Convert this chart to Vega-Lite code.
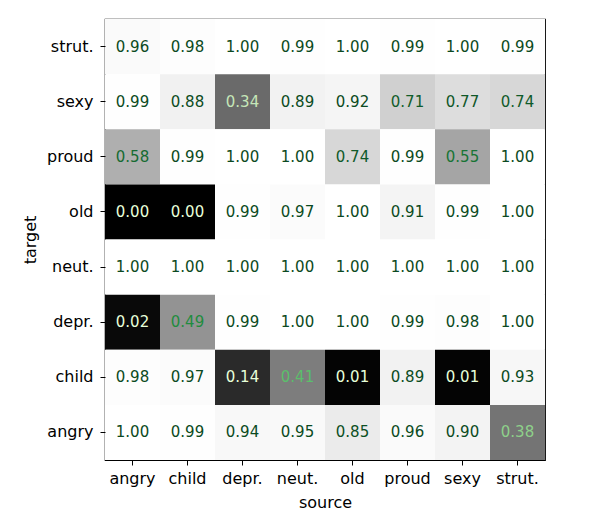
{
  "$schema": "https://vega.github.io/schema/vega-lite/v6.json",
  "autosize": {"type": "none"},
  "padding": {"left": 105, "top": 19, "right": 53, "bottom": 63},
  "width": 440,
  "height": 441,
  "background": "white",
  "config": {
    "font": "DejaVu Sans",
    "view": {"stroke": "black", "strokeWidth": 1.2},
    "axis": {
      "labelFont": "DejaVu Sans", "labelFontSize": 16, "labelColor": "black",
      "titleFont": "DejaVu Sans", "titleFontSize": 16, "titleFontWeight": "normal", "titleColor": "black",
      "tickColor": "black", "tickSize": 5, "domain": false, "grid": false
    }
  },
  "data": {"values": [
    {"target": "strut.", "source": "angry", "v": 0.96},
    {"target": "strut.", "source": "child", "v": 0.98},
    {"target": "strut.", "source": "depr.", "v": 1.00},
    {"target": "strut.", "source": "neut.", "v": 0.99},
    {"target": "strut.", "source": "old", "v": 1.00},
    {"target": "strut.", "source": "proud", "v": 0.99},
    {"target": "strut.", "source": "sexy", "v": 1.00},
    {"target": "strut.", "source": "strut.", "v": 0.99},
    {"target": "sexy", "source": "angry", "v": 0.99},
    {"target": "sexy", "source": "child", "v": 0.88},
    {"target": "sexy", "source": "depr.", "v": 0.34},
    {"target": "sexy", "source": "neut.", "v": 0.89},
    {"target": "sexy", "source": "old", "v": 0.92},
    {"target": "sexy", "source": "proud", "v": 0.71},
    {"target": "sexy", "source": "sexy", "v": 0.77},
    {"target": "sexy", "source": "strut.", "v": 0.74},
    {"target": "proud", "source": "angry", "v": 0.58},
    {"target": "proud", "source": "child", "v": 0.99},
    {"target": "proud", "source": "depr.", "v": 1.00},
    {"target": "proud", "source": "neut.", "v": 1.00},
    {"target": "proud", "source": "old", "v": 0.74},
    {"target": "proud", "source": "proud", "v": 0.99},
    {"target": "proud", "source": "sexy", "v": 0.55},
    {"target": "proud", "source": "strut.", "v": 1.00},
    {"target": "old", "source": "angry", "v": 0.00},
    {"target": "old", "source": "child", "v": 0.00},
    {"target": "old", "source": "depr.", "v": 0.99},
    {"target": "old", "source": "neut.", "v": 0.97},
    {"target": "old", "source": "old", "v": 1.00},
    {"target": "old", "source": "proud", "v": 0.91},
    {"target": "old", "source": "sexy", "v": 0.99},
    {"target": "old", "source": "strut.", "v": 1.00},
    {"target": "neut.", "source": "angry", "v": 1.00},
    {"target": "neut.", "source": "child", "v": 1.00},
    {"target": "neut.", "source": "depr.", "v": 1.00},
    {"target": "neut.", "source": "neut.", "v": 1.00},
    {"target": "neut.", "source": "old", "v": 1.00},
    {"target": "neut.", "source": "proud", "v": 1.00},
    {"target": "neut.", "source": "sexy", "v": 1.00},
    {"target": "neut.", "source": "strut.", "v": 1.00},
    {"target": "depr.", "source": "angry", "v": 0.02},
    {"target": "depr.", "source": "child", "v": 0.49},
    {"target": "depr.", "source": "depr.", "v": 0.99},
    {"target": "depr.", "source": "neut.", "v": 1.00},
    {"target": "depr.", "source": "old", "v": 1.00},
    {"target": "depr.", "source": "proud", "v": 0.99},
    {"target": "depr.", "source": "sexy", "v": 0.98},
    {"target": "depr.", "source": "strut.", "v": 1.00},
    {"target": "child", "source": "angry", "v": 0.98},
    {"target": "child", "source": "child", "v": 0.97},
    {"target": "child", "source": "depr.", "v": 0.14},
    {"target": "child", "source": "neut.", "v": 0.41},
    {"target": "child", "source": "old", "v": 0.01},
    {"target": "child", "source": "proud", "v": 0.89},
    {"target": "child", "source": "sexy", "v": 0.01},
    {"target": "child", "source": "strut.", "v": 0.93},
    {"target": "angry", "source": "angry", "v": 1.00},
    {"target": "angry", "source": "child", "v": 0.99},
    {"target": "angry", "source": "depr.", "v": 0.94},
    {"target": "angry", "source": "neut.", "v": 0.95},
    {"target": "angry", "source": "old", "v": 0.85},
    {"target": "angry", "source": "proud", "v": 0.96},
    {"target": "angry", "source": "sexy", "v": 0.90},
    {"target": "angry", "source": "strut.", "v": 0.38}
  ]},
  "encoding": {
    "x": {"field": "source", "type": "nominal",
      "sort": ["angry", "child", "depr.", "neut.", "old", "proud", "sexy", "strut."],
      "scale": {"paddingInner": 0, "paddingOuter": 0},
      "axis": {"labelAngle": 0, "labelPadding": 5, "titlePadding": 8}},
    "y": {"field": "target", "type": "nominal",
      "sort": ["strut.", "sexy", "proud", "old", "neut.", "depr.", "child", "angry"],
      "scale": {"paddingInner": 0, "paddingOuter": 0},
      "axis": {"labelPadding": 7, "titlePadding": 8}}
  },
  "layer": [
    {
      "mark": {"type": "rect", "opacity": 1, "fillOpacity": 1},
      "encoding": {
        "color": {"field": "v", "type": "quantitative",
          "scale": {"type": "linear", "domain": [0, 0.125, 0.25, 0.375, 0.5, 0.625, 0.75, 0.875, 1],
            "range": ["#000000", "#252525", "#525252", "#737373", "#969696", "#bdbdbd", "#d9d9d9", "#f0f0f0", "#ffffff"]},
          "legend": null}
      }
    },
    {
      "mark": {"type": "text", "font": "DejaVu Sans", "fontSize": 15, "baseline": "middle", "align": "center", "opacity": 1},
      "encoding": {
        "text": {"field": "v", "type": "quantitative", "format": ".2f"},
        "color": {"field": "v", "type": "quantitative",
          "scale": {"type": "linear", "domain": [0.15, 0.34, 0.41, 0.49, 0.57, 0.9],
            "range": ["#ffffff", "#c5e6b8", "#5bbf6b", "#1f8c3e", "#166c32", "#0b4a22"], "clamp": true},
          "legend": null}
      }
    }
  ],
  "resolve": {"scale": {"color": "independent"}}
}
